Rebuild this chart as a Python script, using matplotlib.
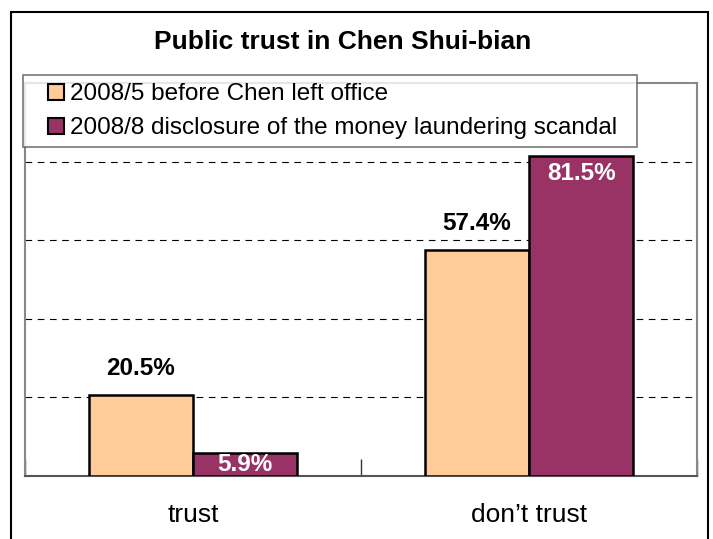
import matplotlib
matplotlib.use("Agg")
import matplotlib.pyplot as plt
from matplotlib.patches import Rectangle
from matplotlib.legend_handler import HandlerPatch
import numpy as np

plt.rcParams['font.family'] = ['Liberation Sans', 'DejaVu Sans']

# data
categories = ["trust", "don\u2019t trust"]
series_names = ["2008/5 before Chen left office",
                "2008/8 disclosure of the money laundering scandal"]
before = [20.5, 57.4]
after = [5.9, 81.5]
colors = ["#FFCC99", "#993366"]

W, H = 713, 539
fig = plt.figure(figsize=(W / 100, H / 100), dpi=100)

# outer chart frame
fig.patches.append(Rectangle((11 / W, -0.05), 697 / W, 1.05 - 12 / H,
                             transform=fig.transFigure, fill=False,
                             edgecolor="black", linewidth=1.5))

ax = fig.add_axes([25 / W, 1 - 476 / H, 672 / W, 393 / H])
x = np.arange(len(categories))
bw = 0.31
b1 = ax.bar(x - bw / 2, before, bw, color=colors[0], edgecolor="black",
            linewidth=1.8, zorder=3)
b2 = ax.bar(x + bw / 2, after, bw, color=colors[1], edgecolor="black",
            linewidth=1.8, zorder=3)

ax.set_xlim(-0.5, 1.5)
ax.set_ylim(0, 100)
ax.set_yticks([20, 40, 60, 80])
ax.yaxis.grid(True, linestyle=(0, (6, 5)), color="black", linewidth=0.8)
ax.tick_params(axis="y", left=False, labelleft=False)
ax.set_xticks([])
ax.set_xticks([-0.5, 0.5, 1.5], minor=True)
ax.tick_params(axis="x", which="minor", direction="in", length=12,
               color="#333333", width=1)
for s in ax.spines.values():
    s.set_color("#888888")
    s.set_linewidth(1.5)
ax.spines["bottom"].set_color("#555555")

# value labels
for i, v in enumerate(before):
    ax.text(x[i] - bw / 2, v + 6.9, "%.1f%%" % v, ha="center", va="center",
            fontsize=17.5, fontweight="bold", color="black")
for i, v in enumerate(after):
    if v > 10:
        ax.text(x[i] + bw / 2, v - 4.5, "%.1f%%" % v, ha="center",
                va="center", fontsize=17.5, fontweight="bold", color="white")
    else:
        ax.text(x[i] + bw / 2, v / 2, "%.1f%%" % v, ha="center", va="center",
                fontsize=17.5, fontweight="bold", color="white")

# category labels
for i, c in enumerate(categories):
    fig.text((25 + 672 * (i + 0.5) / 2) / W, 1 - 515 / H, c, ha="center",
             va="center", fontsize=19)

fig.text(343 / W, 1 - 42 / H, "Public trust in Chen Shui-bian", ha="center",
         va="center", fontsize=19, fontweight="bold")


# legend key: small square at the right end of the handle box
def square_key(legend, orig_handle, xdescent, ydescent, width, height,
               fontsize):
    s = 16 * 72 / 100
    return Rectangle((width - s - xdescent, height / 2 - s / 2 - ydescent),
                     s, s)


keys = [b1.patches[0], b2.patches[0]]
leg = fig.legend(keys, series_names, loc="upper left",
                 bbox_to_anchor=(23 / W, 1 - 145 / H, 614 / W, 70 / H),
                 mode="expand", fontsize=17.5, frameon=True, fancybox=False,
                 handlelength=1.36, handletextpad=0.25, borderpad=0.33,
                 labelspacing=0.5, borderaxespad=0,
                 handler_map={k: HandlerPatch(patch_func=square_key)
                              for k in keys})
leg.get_frame().set_edgecolor("#555555")
leg.get_frame().set_linewidth(1.2)
leg.set_zorder(10)
for h in leg.legend_handles:
    h.set_linewidth(1.5)

fig.savefig("out.png", dpi=100)
